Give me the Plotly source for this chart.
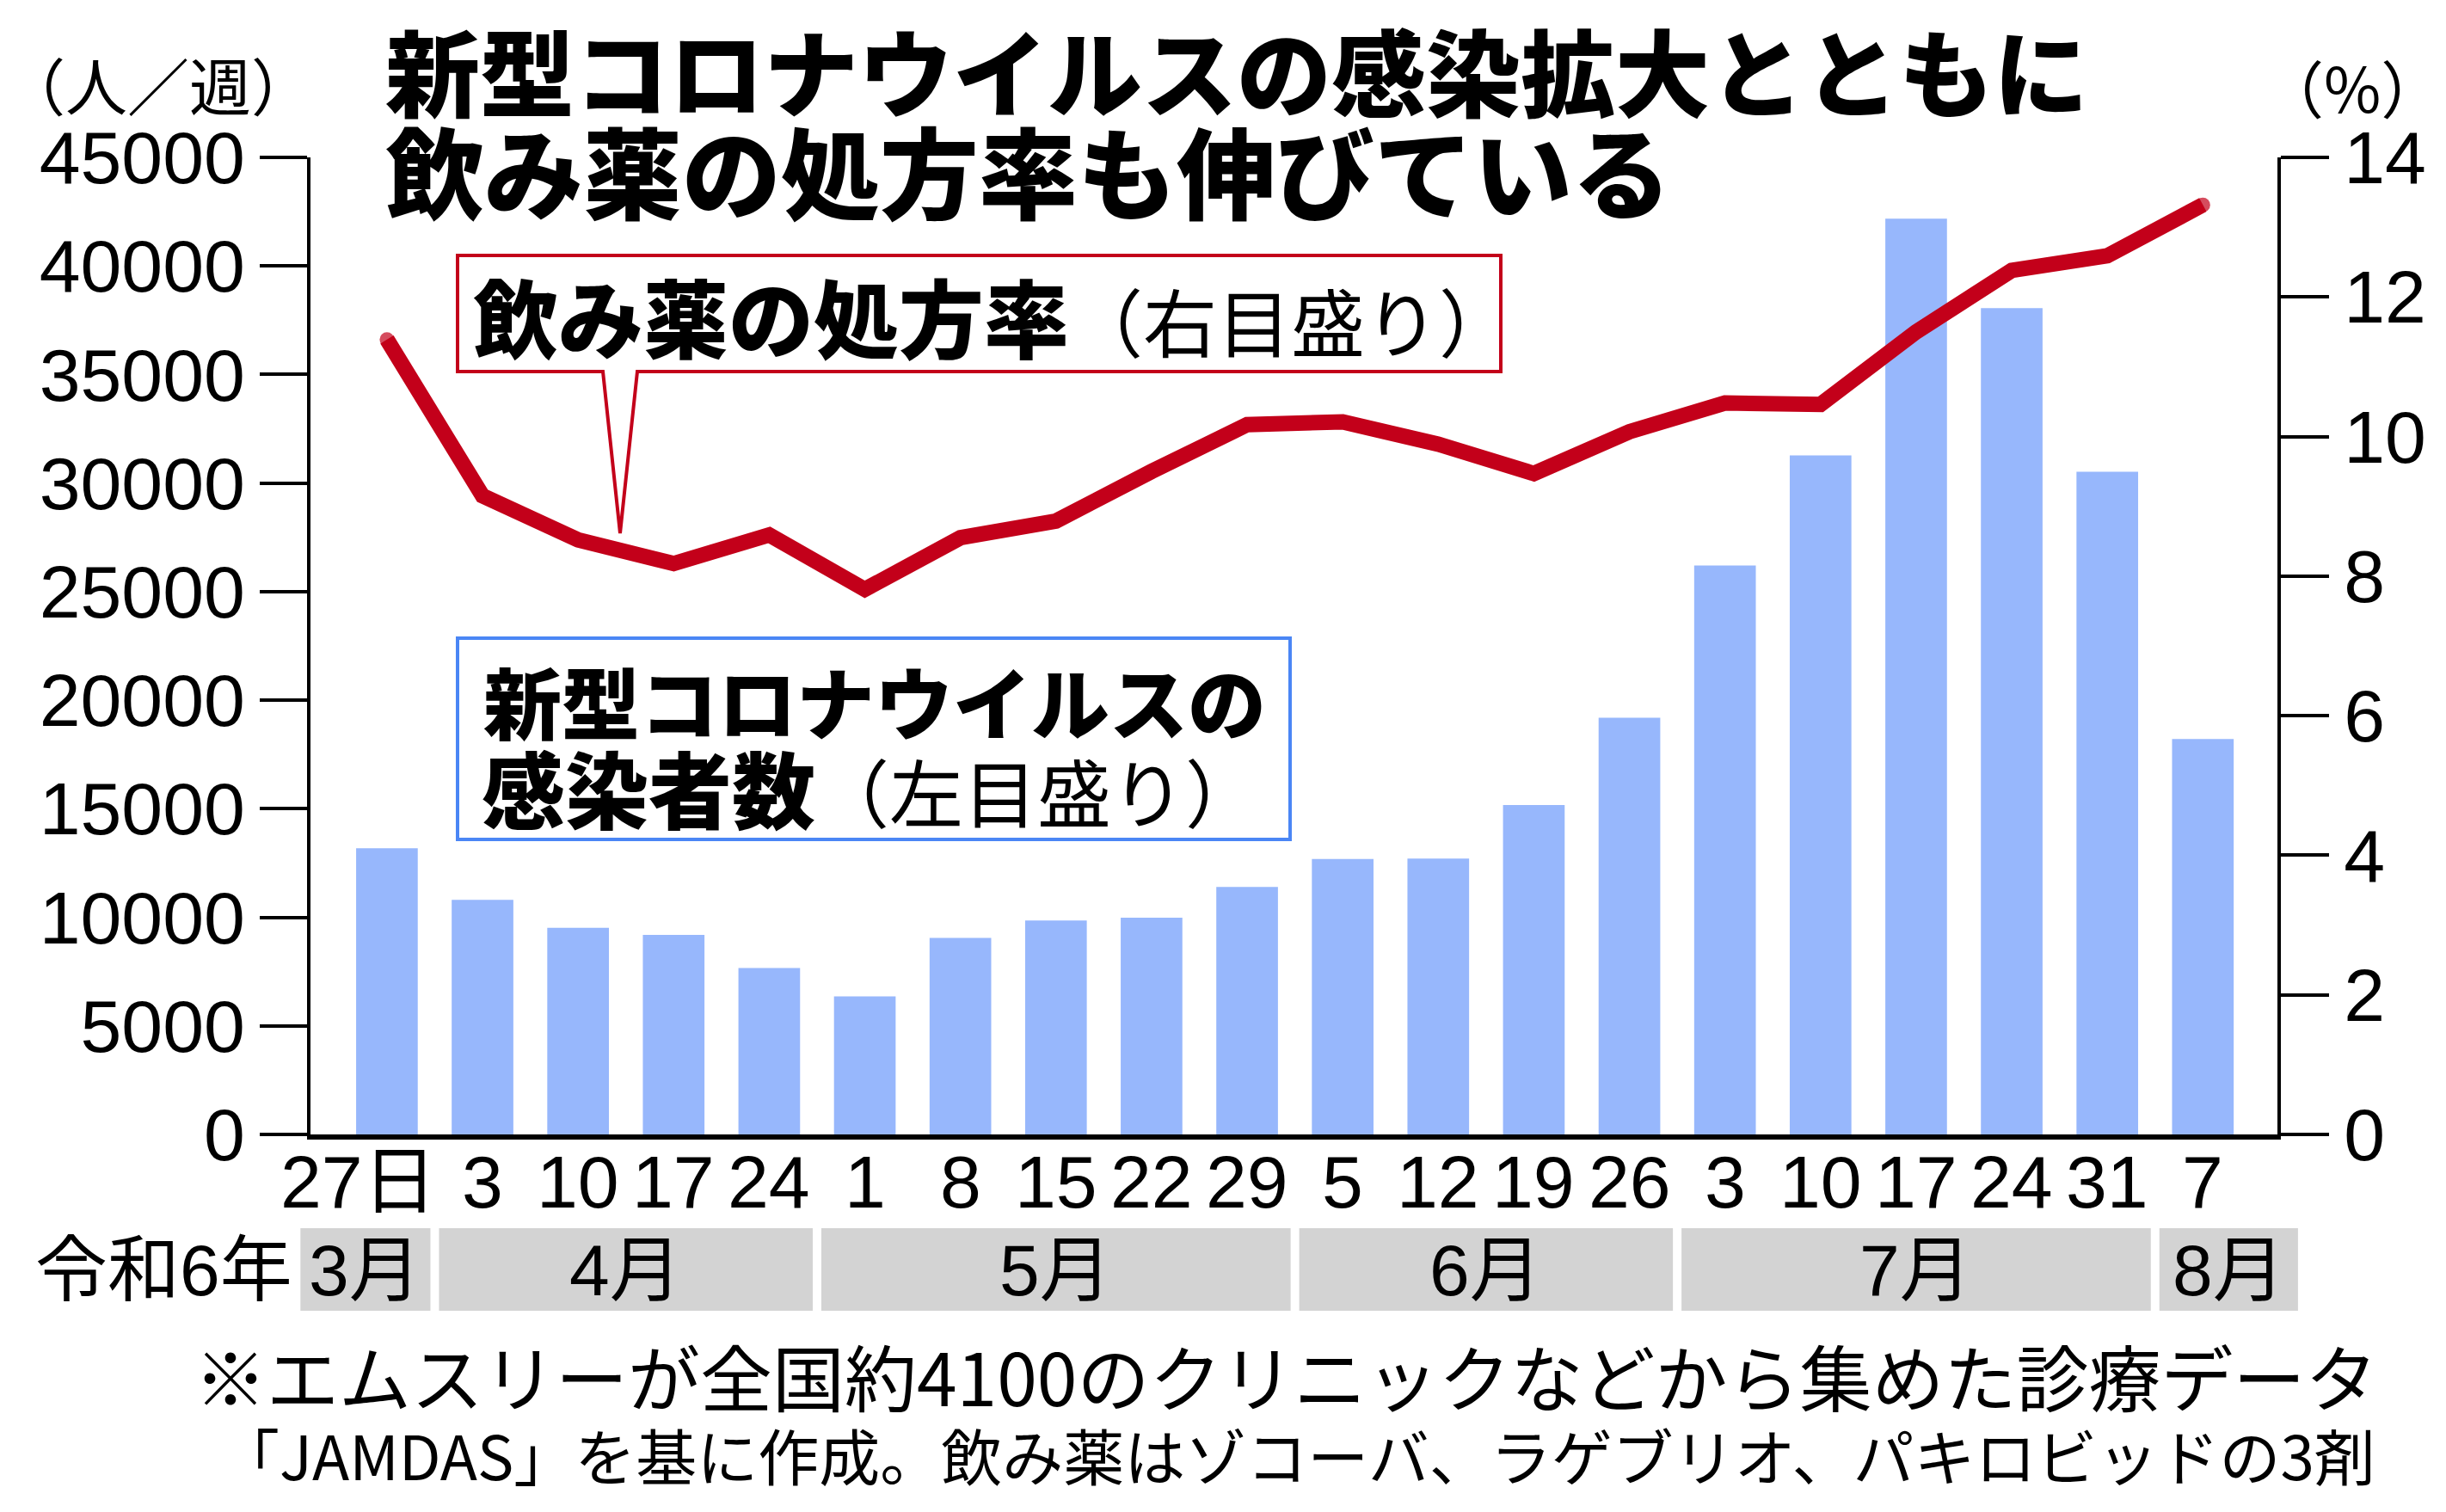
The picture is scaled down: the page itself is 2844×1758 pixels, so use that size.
import plotly.graph_objects as go

# ---------------- data ----------------
days = ["27日", "3", "10", "17", "24", "1", "8", "15", "22", "29",
        "5", "12", "19", "26", "3", "10", "17", "24", "31", "7"]
cases = [13180, 10800, 9520, 9190, 7670, 6360, 9050, 9850, 9980, 11400,
         12690, 12710, 15170, 19190, 26200, 31270, 42180, 38060, 30520, 18210]
rx_rate = [11.39, 9.15, 8.52, 8.18, 8.59, 7.81, 8.55, 8.79, 9.50, 10.17,
           10.21, 9.89, 9.47, 10.07, 10.48, 10.46, 11.50, 12.38, 12.59, 13.32]
months = ["3月", "4月", "5月", "6月", "7月", "8月"]
month_counts = [1, 4, 5, 4, 5, 1]
left_ticks = list(range(0, 45001, 5000))
right_ticks = list(range(0, 15, 2))

# ---------------- geometry ----------------
W, H = 2844, 1758
L, R, T, B = 361, 196, 183, 439
PW, PH = W - L - R, H - T - B
XMIN, XMAX = -0.8, 19.78

def px(xpix):
    return (xpix - L) / PW

def py(ypix):
    return (H - B - ypix) / PH

def cx(c):
    return (c - XMIN) / (XMAX - XMIN)

JP = "Noto Sans CJK JP"
NUM = "Liberation Sans, Arial, Noto Sans CJK JP"
RED = "#C3001A"
BLUE_BAR = "#97B7FC"
BLUE_LINE = "#4A86F5"

xs = list(range(len(days)))

fig = go.Figure()
fig.add_trace(go.Bar(x=xs, y=cases, marker=dict(color=BLUE_BAR, line=dict(width=0)),
                     width=0.645, yaxis="y"))
end_sizes = [17] + [0] * (len(rx_rate) - 2) + [17]
fig.add_trace(go.Scatter(x=xs, y=rx_rate, yaxis="y2", mode="lines+markers",
                         line=dict(color=RED, width=18),
                         marker=dict(color=RED, size=end_sizes, line=dict(width=0))))

shapes = []
annotations = []

# x (day) labels placed on the category axis
for i, d in enumerate(days):
    annotations.append(dict(xref="x", yref="paper", x=xs[i], y=py(1374), text=d,
                            showarrow=False, xanchor="center", yanchor="middle",
                            xshift=-33 if i == 0 else 0,
                            font=dict(family=NUM, size=86, color="black")))

# month bands
gap = 0.045
extra_l = [0.45, 0, 0, 0, 0, 0]
extra_r = [0, 0, 0, 0, 0, 0.54]
start = 0
for i, (m, n) in enumerate(zip(months, month_counts)):
    first, last = start, start + n - 1
    x0 = first - 0.5 + gap - extra_l[i]
    x1 = last + 0.5 - gap + extra_r[i]
    shapes.append(dict(type="rect", xref="paper", yref="paper",
                       x0=cx(x0), x1=cx(x1), y0=py(1524), y1=py(1428),
                       fillcolor="#D3D3D3", line=dict(width=0)))
    annotations.append(dict(xref="paper", yref="paper", x=cx((x0 + x1) / 2), y=py(1477),
                            text=m, showarrow=False, xanchor="center", yanchor="middle",
                            font=dict(family=NUM, size=84, color="black")))
    start += n

annotations.append(dict(xref="paper", yref="paper", x=px(342), y=py(1477), text="令和6年",
                        showarrow=False, xanchor="right", yanchor="middle",
                        font=dict(family=NUM, size=84, color="black")))

# red legend box with pointer
bx0, bx1, by0, by1 = 532, 1745, 297, 432
path = (f"M {px(bx0)},{py(by0)} L {px(bx1)},{py(by0)} L {px(bx1)},{py(by1)} "
        f"L {px(741)},{py(by1)} L {px(721)},{py(620)} L {px(701)},{py(by1)} "
        f"L {px(bx0)},{py(by1)} Z")
shapes.append(dict(type="path", xref="paper", yref="paper", path=path,
                   fillcolor="white", line=dict(color=RED, width=4)))
annotations.append(dict(xref="paper", yref="paper", x=px(548), y=py(366),
                        text='<span style="font-weight:900">飲み薬の処方率</span>'
                             '<span style="font-size:86px">（右目盛り）</span>',
                        showarrow=False, xanchor="left", yanchor="middle",
                        font=dict(family=JP, size=99, color="black")))

# blue legend box
shapes.append(dict(type="rect", xref="paper", yref="paper",
                   x0=px(532), x1=px(1500), y0=py(976), y1=py(742),
                   fillcolor="white", line=dict(color=BLUE_LINE, width=4)))
annotations.append(dict(xref="paper", yref="paper", x=px(560), y=py(813),
                        text='<span style="font-weight:900">新型コロナウイルスの</span>',
                        showarrow=False, xanchor="left", yanchor="middle",
                        font=dict(family=JP, size=91, color="black")))
annotations.append(dict(xref="paper", yref="paper", x=px(558), y=py(913),
                        text='<span style="font-weight:900">感染者数</span>'
                             '<span style="font-size:86px">（左目盛り）</span>',
                        showarrow=False, xanchor="left", yanchor="middle",
                        font=dict(family=JP, size=97, color="black")))

# title
annotations.append(dict(xref="paper", yref="paper", x=px(446), y=py(80),
                        text="新型コロナウイルスの感染拡大とともに",
                        showarrow=False, xanchor="left", yanchor="middle",
                        font=dict(family=JP, size=110, color="black", weight=900)))
annotations.append(dict(xref="paper", yref="paper", x=px(446), y=py(196),
                        text="飲み薬の処方率も伸びている",
                        showarrow=False, xanchor="left", yanchor="middle",
                        font=dict(family=JP, size=115, color="black", weight=900)))

# units
annotations.append(dict(xref="paper", yref="paper", x=px(2), y=py(97), text="（人／週）",
                        showarrow=False, xanchor="left", yanchor="middle",
                        font=dict(family=JP, size=72, color="black")))
annotations.append(dict(xref="paper", yref="paper", x=px(2842), y=py(100), text="（%）",
                        showarrow=False, xanchor="right", yanchor="middle",
                        font=dict(family=JP, size=72, color="black")))

# footnotes
annotations.append(dict(xref="paper", yref="paper", x=px(2766), y=py(1598),
                        text="※エムスリーが全国約4100のクリニックなどから集めた診療データ",
                        showarrow=False, xanchor="right", yanchor="middle",
                        font=dict(family=JP, size=84, color="black")))
annotations.append(dict(xref="paper", yref="paper", x=px(2764), y=py(1690),
                        text="「JAMDAS」を基に作成。飲み薬はゾコーバ、ラゲブリオ、パキロビッドの3剤",
                        showarrow=False, xanchor="right", yanchor="middle",
                        font=dict(family=JP, size=71, color="black")))

fig.update_layout(
    width=W, height=H,
    margin=dict(l=L, r=R, t=T, b=B, pad=0),
    paper_bgcolor="white", plot_bgcolor="white",
    showlegend=False,
    font=dict(family=NUM, color="black"),
    shapes=shapes, annotations=annotations,
    xaxis=dict(range=[XMIN, XMAX], tickmode="array", tickvals=xs, ticktext=days,
               showticklabels=False,
               showline=True, linewidth=6, linecolor="black", ticks="",
               showgrid=False, zeroline=False, fixedrange=True),
    yaxis=dict(range=[0, 45000], tickmode="array", tickvals=left_ticks,
               ticktext=[str(v) for v in left_ticks],
               ticks="outside", ticklen=55, tickwidth=4, tickcolor="black",
               showline=True, linewidth=4, linecolor="black",
               tickfont=dict(family=NUM, size=86, color="black"),
               showgrid=False, zeroline=False),
    yaxis2=dict(range=[0, 14], tickmode="array", tickvals=right_ticks,
                ticktext=[str(v) for v in right_ticks],
                overlaying="y", side="right", anchor="x",
                ticks="outside", ticklen=56, tickwidth=4, tickcolor="black",
                showline=True, linewidth=4, linecolor="black",
                tickfont=dict(family=NUM, size=86, color="black"),
                showgrid=False, zeroline=False),
)

fig.write_html("out.html")
